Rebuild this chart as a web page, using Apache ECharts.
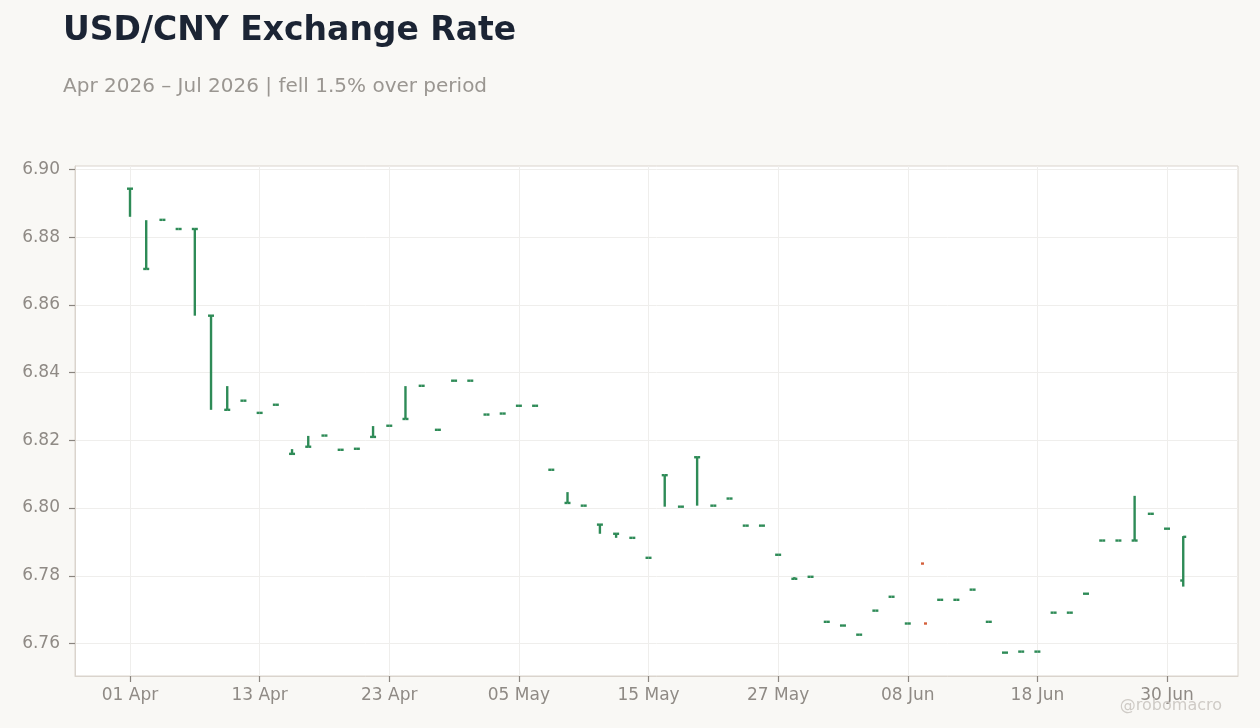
<!DOCTYPE html>
<html>
<head>
<meta charset="utf-8">
<script src="https://cdn.jsdelivr.net/npm/echarts@6/dist/echarts.min.js"></script>
<style>
html,body{margin:0;padding:0;background:#f9f8f5;}
#chart{width:1260px;height:728px;}
</style>
</head>
<body>
<div id="chart"></div>
<script>
// Trading days (business days) Apr 1 – Jul 1, 2026
const dates = [
  "2026-04-01","2026-04-02","2026-04-03","2026-04-06","2026-04-07","2026-04-08","2026-04-09","2026-04-10",
  "2026-04-13","2026-04-14","2026-04-15","2026-04-16","2026-04-17","2026-04-20","2026-04-21","2026-04-22",
  "2026-04-23","2026-04-24","2026-04-27","2026-04-28","2026-04-29","2026-04-30","2026-05-01","2026-05-04",
  "2026-05-05","2026-05-06","2026-05-07","2026-05-08","2026-05-11","2026-05-12","2026-05-13","2026-05-14",
  "2026-05-15","2026-05-18","2026-05-19","2026-05-20","2026-05-21","2026-05-22","2026-05-25","2026-05-26",
  "2026-05-27","2026-05-28","2026-05-29","2026-06-01","2026-06-02","2026-06-03","2026-06-04","2026-06-05",
  "2026-06-08","2026-06-09","2026-06-10","2026-06-11","2026-06-12","2026-06-15","2026-06-16","2026-06-17",
  "2026-06-18","2026-06-19","2026-06-22","2026-06-23","2026-06-24","2026-06-25","2026-06-26","2026-06-29",
  "2026-06-30","2026-07-01"
];
const openVals = [
  6.8943,6.8706,6.8851,6.8824,6.8824,6.8568,6.8290,6.8317,
  6.8281,6.8305,6.8160,6.8181,6.8214,6.8172,6.8175,6.8210,
  6.8243,6.8263,6.8361,6.8231,6.8376,6.8376,6.8276,6.8279,
  6.8302,6.8302,6.8113,6.8015,6.8007,6.7951,6.7924,6.7912,
  6.7853,6.8097,6.8004,6.8150,6.8007,6.8028,6.7948,6.7948,
  6.7862,6.7791,6.7797,6.7664,6.7653,6.7626,6.7697,6.7738,
  6.7659,6.7836,6.7729,6.7729,6.7759,6.7664,6.7573,6.7576,
  6.7576,6.7691,6.7691,6.7747,6.7904,6.7904,6.7904,6.7983,
  6.7939,6.7786
];
const highVals = [
  6.8943,6.8850,6.8851,6.8824,6.8824,6.8568,6.8360,6.8317,
  6.8281,6.8305,6.8174,6.8213,6.8214,6.8172,6.8175,6.8242,
  6.8243,6.8360,6.8361,6.8231,6.8376,6.8376,6.8276,6.8279,
  6.8302,6.8302,6.8113,6.8047,6.8007,6.7951,6.7924,6.7912,
  6.7853,6.8097,6.8004,6.8150,6.8007,6.8028,6.7948,6.7948,
  6.7862,6.7796,6.7797,6.7664,6.7653,6.7626,6.7697,6.7738,
  6.7659,6.7659,6.7729,6.7729,6.7759,6.7664,6.7573,6.7576,
  6.7576,6.7691,6.7691,6.7747,6.7904,6.7904,6.8036,6.7983,
  6.7939,6.7917
];
const lowVals = [
  6.8860,6.8706,6.8851,6.8824,6.8568,6.8290,6.8290,6.8317,
  6.8281,6.8305,6.8160,6.8181,6.8214,6.8172,6.8175,6.8210,
  6.8243,6.8263,6.8361,6.8231,6.8376,6.8376,6.8276,6.8279,
  6.8302,6.8302,6.8113,6.8015,6.8007,6.7924,6.7912,6.7912,
  6.7853,6.8004,6.8004,6.8007,6.8007,6.8028,6.7948,6.7948,
  6.7862,6.7791,6.7797,6.7664,6.7653,6.7626,6.7697,6.7738,
  6.7659,6.7659,6.7729,6.7729,6.7759,6.7664,6.7573,6.7576,
  6.7576,6.7691,6.7691,6.7747,6.7904,6.7904,6.7904,6.7983,
  6.7939,6.7768
];
const closeVals = [
  6.8943,6.8706,6.8851,6.8824,6.8824,6.8568,6.8290,6.8317,
  6.8281,6.8305,6.8160,6.8181,6.8214,6.8172,6.8175,6.8210,
  6.8243,6.8263,6.8361,6.8231,6.8376,6.8376,6.8276,6.8279,
  6.8302,6.8302,6.8113,6.8015,6.8007,6.7951,6.7924,6.7912,
  6.7853,6.8097,6.8004,6.8150,6.8007,6.8028,6.7948,6.7948,
  6.7862,6.7791,6.7797,6.7664,6.7653,6.7626,6.7697,6.7738,
  6.7659,6.7659,6.7729,6.7729,6.7759,6.7664,6.7573,6.7576,
  6.7576,6.7691,6.7691,6.7747,6.7904,6.7904,6.7904,6.7983,
  6.7939,6.7915
];
const xTickIdx = [0, 8, 16, 24, 32, 40, 48, 56, 64];
const xTickLabels = ["01 Apr","13 Apr","23 Apr","05 May","15 May","27 May","08 Jun","18 Jun","30 Jun"];
const yTicks = [6.76, 6.78, 6.80, 6.82, 6.84, 6.86, 6.88, 6.90];

const UP = '#2e8b57', DOWN = '#d4603c';
const LABEL = '#8f8a85', FONT = 'DejaVu Sans', BORDER = '#dad4cd', TICK = '#8a857f';

const seriesData = dates.map((d, i) => [i, openVals[i], highVals[i], lowVals[i], closeVals[i]]);

const chart = echarts.init(document.getElementById('chart'), null, {renderer: 'canvas'});
chart.setOption({
  backgroundColor: '#f9f8f5',
  animation: false,
  textStyle: {fontFamily: FONT},
  title: [
    {text: 'USD/CNY Exchange Rate', left: 58, top: 10,
     textStyle: {fontFamily: FONT, fontSize: 33, fontWeight: 'bold', color: '#1b2434'}},
    {text: 'Apr 2026 \u2013 Jul 2026 | fell 1.5% over period', left: 58, top: 72,
     textStyle: {fontFamily: FONT, fontSize: 20, fontWeight: 'normal', color: '#9a9691'}},
    {text: '@robomacro', right: 33, top: 693,
     textStyle: {fontFamily: FONT, fontSize: 16, fontWeight: 'normal', color: '#cfcbc6'}}
  ],
  grid: {left: 75, right: 22, top: 166, bottom: 52, show: true, backgroundColor: '#ffffff',
         borderColor: BORDER, borderWidth: 1, containLabel: false, outerBoundsMode: 'none'},
  xAxis: {
    type: 'value', min: -3.395, max: 68.38,
    axisLine: {show: true, onZero: false, lineStyle: {color: BORDER, width: 1}},
    axisTick: {show: true, length: 6, customValues: xTickIdx, lineStyle: {color: TICK, width: 1.2}},
    axisLabel: {customValues: xTickIdx, margin: 11, fontSize: 17, color: LABEL, fontFamily: FONT,
      formatter: v => { const k = xTickIdx.indexOf(Math.round(v)); return k >= 0 ? xTickLabels[k] : ''; }},
    splitLine: {show: true, lineStyle: {color: '#efeeec', width: 1}}
  },
  yAxis: {
    type: 'value', min: 6.7504, max: 6.901,
    axisLine: {show: true, onZero: false, lineStyle: {color: BORDER, width: 1}},
    axisTick: {show: true, length: 6, customValues: yTicks, lineStyle: {color: TICK, width: 1.2}},
    axisLabel: {customValues: yTicks, margin: 15, fontSize: 17, color: LABEL, fontFamily: FONT,
      formatter: v => v.toFixed(2)},
    splitLine: {show: true, lineStyle: {color: '#efeeec', width: 1}}
  },
  series: [{
    type: 'custom',
    data: seriesData,
    encode: {x: 0, y: [1, 2, 3, 4]},
    clip: true,
    renderItem: function (params, api) {
      const x = api.value(0);
      const o = api.value(1), h = api.value(2), l = api.value(3), c = api.value(4);
      const pO = api.coord([x, o]), pH = api.coord([x, h]);
      const pL = api.coord([x, l]), pC = api.coord([x, c]);
      const half = api.size([1, 0])[0] * 0.185;
      const color = c >= o ? UP : DOWN;
      const st = {stroke: color, lineWidth: 2.4, lineCap: 'butt'};
      return {
        type: 'group',
        children: [
          {type: 'line', shape: {x1: pH[0], y1: pH[1], x2: pL[0], y2: pL[1]}, style: st},
          {type: 'line', shape: {x1: pO[0] - half, y1: pO[1], x2: pO[0], y2: pO[1]}, style: st},
          {type: 'line', shape: {x1: pC[0], y1: pC[1], x2: pC[0] + half, y2: pC[1]}, style: st}
        ]
      };
    }
  }]
});
</script>
</body>
</html>
